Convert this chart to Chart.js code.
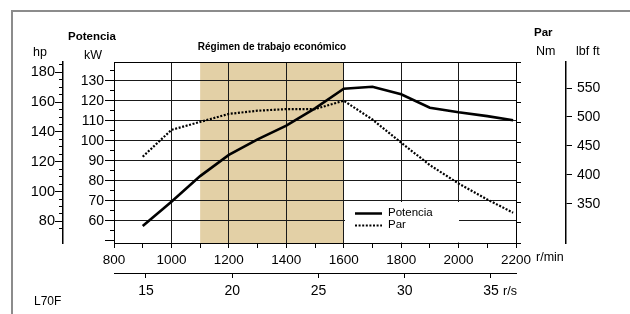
<!DOCTYPE html>
<html>
<head>
<meta charset="utf-8">
<script src="https://cdn.jsdelivr.net/npm/chart.js@4.4.1/dist/chart.umd.min.js"></script>
<style>
html, body { margin: 0; padding: 0; background: #fff; }
#wrap { position: relative; width: 630px; height: 314px; }
#frame { position: absolute; left: 11px; top: 10px; right: 0; bottom: 0;
  border-top: 2px solid #8c8c8c; border-left: 2px solid #8c8c8c; pointer-events: none; }
</style>
</head>
<body>
<div id="wrap">
  <canvas id="myChart" width="630" height="314"></canvas>
  <div id="frame"></div>
</div>
<script>
// data
const rpm = [900, 1000, 1100, 1200, 1300, 1400, 1500, 1600, 1700, 1800, 1900, 2000, 2100, 2190]
const potenciaKW = [57.3, 69.5, 82.3, 92.9, 100.7, 107.5, 116.2, 126.0, 127.0, 123.2, 116.5, 114.2, 112.3, 110.2]
const parNm = [610, 677, 697, 717, 725, 729, 729, 750, 703, 645, 589, 543, 503, 470]
const ecoRange = [1100, 1600]
const lbfTicks = [350, 400, 450, 500, 550]
const seriesNames = ["Potencia", "Par"]

const bandColor = "#e3d0a6"
const FONT = "'Liberation Sans', Arial, sans-serif"
Chart.defaults.font.family = FONT
Chart.defaults.color = "#000"

const noColor = "rgba(0,0,0,0)"

const decor = {
    id: "decor",
    beforeDraw(chart) {
        const {ctx, chartArea: a, scales} = chart
        const x0 = scales.x.getPixelForValue(ecoRange[0])
        const x1 = scales.x.getPixelForValue(ecoRange[1])
        ctx.save()
        ctx.fillStyle = bandColor
        ctx.fillRect(x0, a.top, x1 - x0, a.bottom - a.top)
        ctx.restore()
    },
    afterDatasetsDraw(chart) {
        const {ctx, chartArea: a, scales} = chart
        ctx.save()
        // top border of the plot
        ctx.strokeStyle = "#000"
        ctx.lineWidth = 1
        ctx.beginPath()
        ctx.moveTo(a.left, Math.round(a.top) + 0.5)
        ctx.lineTo(a.right, Math.round(a.top) + 0.5)
        ctx.stroke()

        // legend box
        const lx0 = Math.round(scales.x.getPixelForValue(1600))
        const lx1 = Math.round(scales.x.getPixelForValue(2000))
        const ly0 = Math.round(scales.y.getPixelForValue(70))
        ctx.fillStyle = "#fff"
        ctx.fillRect(lx0 + 1, ly0 + 1, lx1 - lx0 - 1, a.bottom - ly0 - 1.5)

        ctx.strokeStyle = "#000"
        ctx.lineWidth = 2.5
        ctx.beginPath()
        ctx.moveTo(lx0 + 11, ly0 + 12.5)
        ctx.lineTo(lx0 + 38, ly0 + 12.5)
        ctx.stroke()
        ctx.lineWidth = 2
        ctx.setLineDash([2, 1.6])
        ctx.beginPath()
        ctx.moveTo(lx0 + 11, ly0 + 24.5)
        ctx.lineTo(lx0 + 38, ly0 + 24.5)
        ctx.stroke()
        ctx.setLineDash([])

        ctx.fillStyle = "#000"
        ctx.font = "11.5px " + FONT
        ctx.textBaseline = "middle"
        ctx.textAlign = "left"
        ctx.fillText(seriesNames[0], lx0 + 44, ly0 + 12)
        ctx.fillText(seriesNames[1], lx0 + 44, ly0 + 24)
        ctx.restore()
    },
    afterDraw(chart) {
        const ctx = chart.ctx
        ctx.save()
        ctx.fillStyle = "#000"
        ctx.textBaseline = "middle"
        ctx.textAlign = "left"
        ctx.font = "bold 11.5px " + FONT
        ctx.fillText("Potencia", 68, 37)
        ctx.fillText("Par", 534, 33)
        ctx.font = "12.5px " + FONT
        ctx.fillText("hp", 33, 53)
        ctx.fillText("kW", 84, 56)
        ctx.fillText("Nm", 536, 52)
        ctx.fillText("lbf ft", 576, 52)
        ctx.fillText("r/min", 536, 258)
        ctx.fillText("r/s", 503, 292)
        ctx.font = "12px " + FONT
        ctx.fillText("L70F", 34, 302)
        ctx.font = "bold 10px " + FONT
        ctx.textAlign = "center"
        ctx.fillText("Régimen de trabajo económico", 272, 47)
        ctx.restore()
    }
}

const ctx = document.getElementById("myChart").getContext("2d")

const config = {
    type: "line",
    data: {
        datasets: [{
            label: seriesNames[0],
            data: rpm.map((r, i) => ({x: r, y: potenciaKW[i]})),
            yAxisID: "y",
            borderColor: "#000",
            borderWidth: 2.6,
            pointRadius: 0,
            tension: 0,
            fill: false
        }, {
            label: seriesNames[1],
            data: rpm.map((r, i) => ({x: r, y: parNm[i]})),
            yAxisID: "yNm",
            borderColor: "#000",
            borderWidth: 2.2,
            borderDash: [2, 1.6],
            pointRadius: 0,
            tension: 0,
            fill: false
        }]
    },
    options: {
        responsive: false,
        devicePixelRatio: 1,
        animation: false,
        layout: {padding: {top: 62, bottom: 11, left: 0, right: 0}},
        plugins: {legend: {display: false}, tooltip: {enabled: false}},
        scales: {
            x: {
                type: "linear", position: "bottom", min: 800, max: 2200, weight: 0,
                ticks: {stepSize: 100, autoSkip: false, maxRotation: 0, padding: 4,
                    font: {size: 13.5}, color: "#000",
                    callback: v => (v % 200 === 0 ? String(v) : "")},
                grid: {
                    color: c => (c.tick && c.tick.value % 200 === 0 && c.tick.value > 800 && c.tick.value < 2200) ? "#1a1a1a" : noColor,
                    tickColor: "#000", tickLength: 5, lineWidth: 1
                },
                border: {color: "#000", width: 1},
                afterFit: s => { s.height = 30 }
            },
            xs: {
                type: "linear", position: "bottom", min: 13.15, max: 36.45, weight: 1,
                ticks: {stepSize: 5, includeBounds: false, padding: 5, maxRotation: 0,
                    font: {size: 14}, color: "#000"},
                grid: {drawOnChartArea: false, tickColor: "#000", tickLength: 5},
                border: {color: "#000", width: 1},
                afterFit: s => { s.height = 30 }
            },
            y: {
                type: "linear", position: "left", min: 48.85, max: 139.35, weight: 0,
                ticks: {stepSize: 5, includeBounds: false, padding: 1, autoSkip: false,
                    font: {size: 14}, color: "#000",
                    callback: v => (Math.round(v) % 10 === 0 && v >= 60 ? String(Math.round(v)) : "")},
                grid: {
                    color: c => (c.tick && Math.round(c.tick.value) % 10 === 0 && c.tick.value >= 60) ? "#1a1a1a" : noColor,
                    tickColor: "#000", tickLength: 9,
                    tickBorderDash: [9, 5],
                    tickBorderDashOffset: c => (c.tick && Math.round(c.tick.value) % 10 === 0 ? 0 : 9)
                },
                border: {color: "#000", width: 1},
                afterFit: s => { s.width = 51 }
            },
            yhp: {
                type: "linear", position: "left", min: 65.5, max: 186.9, weight: 1,
                ticks: {stepSize: 5, includeBounds: false, padding: 0, autoSkip: false,
                    font: {size: 14.5}, color: "#000",
                    callback: v => (Math.round(v) % 20 === 0 && v >= 80 ? String(Math.round(v)) : "")},
                grid: {
                    drawOnChartArea: false,
                    tickColor: c => (c.tick && c.tick.value < 74 ? noColor : "#000"),
                    tickLength: 8,
                    tickBorderDash: [8, 4],
                    tickBorderDashOffset: c => (c.tick && Math.round(c.tick.value) % 20 === 0 ? 0 : 8)
                },
                border: {color: "#000", width: 1.5},
                afterFit: s => { s.width = 63 }
            },
            yNm: {
                type: "linear", position: "right", min: 394.25, max: 846.75, weight: 0,
                ticks: {stepSize: 50, includeBounds: false, padding: 6, autoSkip: false,
                    font: {size: 14}, color: "#000",
                    callback: v => (Math.round(v) % 100 === 0 ? String(Math.round(v)) : "")},
                grid: {drawOnChartArea: false, tickColor: "#000", tickLength: 5},
                border: {color: "#000", width: 1},
                afterFit: s => { s.width = 50 }
            },
            ylbf: {
                type: "linear", position: "right", min: 282, max: 595, weight: 1,
                ticks: {padding: 5, autoSkip: false, font: {size: 14}, color: "#000"},
                afterBuildTicks: s => { s.ticks = lbfTicks.map(v => ({value: v})) },
                grid: {drawOnChartArea: false, tickColor: "#000", tickLength: 6},
                border: {color: "#000", width: 1.5},
                afterFit: s => { s.width = 64 }
            }
        }
    },
    plugins: [decor]
}

const myChart = new Chart(ctx, config)
</script>
</body>
</html>
